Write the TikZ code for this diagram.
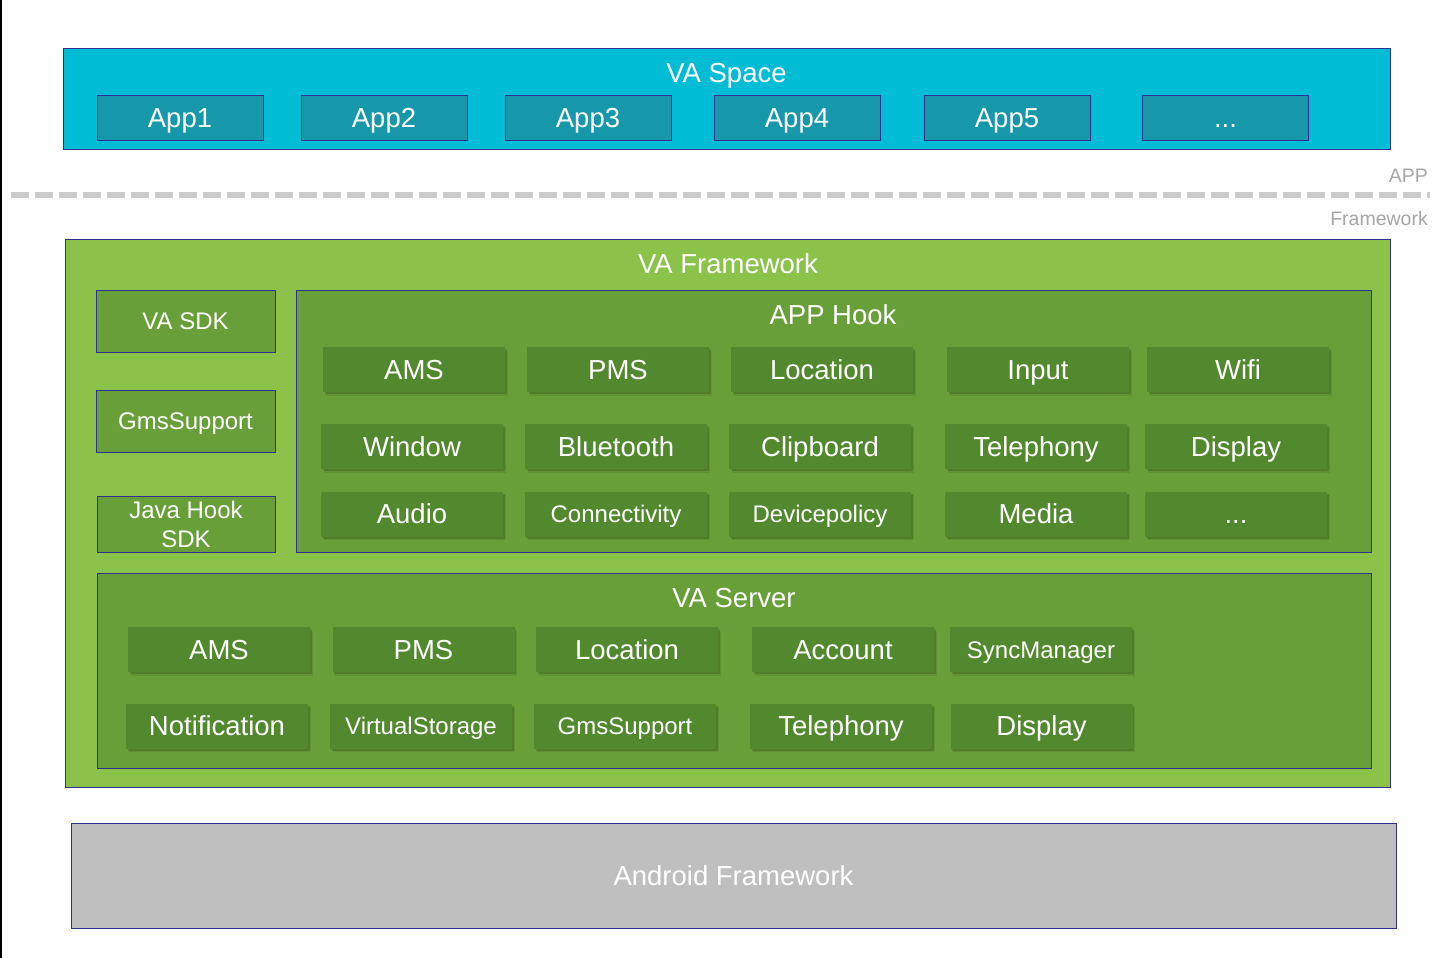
\documentclass[tikz,border=0pt]{standalone}
\usepackage{fontspec}
\setmainfont{Liberation Sans}
\usetikzlibrary{shadows}
\definecolor{edgeblue}{RGB}{46,49,146}
\definecolor{spacecyan}{RGB}{0,188,212}
\definecolor{appteal}{RGB}{23,151,170}
\definecolor{fwgreen}{RGB}{139,195,74}
\definecolor{midgreen}{RGB}{104,159,56}
\definecolor{darkgreen}{RGB}{82,137,47}
\definecolor{androidgray}{RGB}{191,191,191}
\definecolor{sepgray}{RGB}{204,204,204}
\definecolor{notegray}{RGB}{166,166,166}

\begin{document}
\begin{tikzpicture}[x=1pt,y=-1pt,
    bigfont/.style={font=\fontsize{27.5}{30}\selectfont, text height=19.7pt, text depth=0pt},
    smallfont/.style={font=\fontsize{24}{29}\selectfont, text height=17.2pt, text depth=0pt},
    layer/.style={draw=edgeblue, line width=0.9pt, anchor=north west, inner sep=0pt},
    title/.style={bigfont, text=white, inner sep=0pt},
    appbox/.style={draw=edgeblue, line width=0.9pt, fill=appteal, text=white, bigfont,
        minimum width=166pt, minimum height=45pt, inner sep=0pt},
    sdkbox/.style={draw=edgeblue, line width=0.9pt, fill=midgreen, text=white, smallfont,
        minimum width=179pt, minimum height=62pt, inner sep=0pt},
    hook/.style={fill=darkgreen, text=white, bigfont, minimum width=182pt, minimum height=45pt,
        inner sep=0pt,
        drop shadow={shadow xshift=2.5pt, shadow yshift=-3.5pt, fill=black, opacity=0.08},
        drop shadow={shadow xshift=1.5pt, shadow yshift=-2pt, fill=black, opacity=0.14}},
    hooksmall/.style={hook, smallfont},
    note/.style={font=\fontsize{19.5}{22}\selectfont, text=notegray, text height=14pt, text depth=0pt,
        inner sep=0pt, anchor=east}]
    \useasboundingbox (0,0) rectangle (1441,958);
    \fill[white] (0,0) rectangle (1441,958);
    \draw[line width=2pt] (1,0) -- (1,958);

    % VA Space
    \node[layer, fill=spacecyan, minimum width=1327pt, minimum height=101pt] (space) at (63,48) {};
    \node[title] (spacettl) at (726.5,73) {VA Space};
    \node[appbox] (app1) at (180,117.5) {App1};
    \node[appbox] (app2) at (384,117.5) {App2};
    \node[appbox] (app3) at (588,117.5) {App3};
    \node[appbox] (app4) at (797,117.5) {App4};
    \node[appbox] (app5) at (1007,117.5) {App5};
    \node[appbox] (appmore) at (1225.5,117.5) {...};

    % separator APP / Framework
    \draw[sepgray, line width=6pt, dash pattern=on 18pt off 6pt] (11,195) -- (1430,195);
    \node[note] (appnote) at (1428,175) {APP};
    \node[note] (fwnote) at (1428,218) {Framework};

    % VA Framework
    \node[layer, fill=fwgreen, minimum width=1325pt, minimum height=548pt] (fw) at (65,239) {};
    \node[title] (fwttl) at (728,264) {VA Framework};
    \node[sdkbox] (vasdk) at (185.5,321) {VA SDK};
    \node[sdkbox] (gms) at (185.5,421) {GmsSupport};
    \node[sdkbox, minimum width=178pt, minimum height=56pt, text height=, text depth=, align=center] (javahook) at (186,524) {Java Hook\\SDK};

    % APP Hook
    \node[layer, fill=midgreen, minimum width=1075pt, minimum height=262pt] (hookarea) at (296,290) {};
    \node[title] (hookttl) at (833,315) {APP Hook};
    \node[hook] (hams) at (414,369.5) {AMS};
    \node[hook] (hpms) at (618,369.5) {PMS};
    \node[hook] (hloc) at (822,369.5) {Location};
    \node[hook] (hinput) at (1038,369.5) {Input};
    \node[hook] (hwifi) at (1238,369.5) {Wifi};
    \node[hook] (hwin) at (412,446.5) {Window};
    \node[hook] (hbt) at (616,446.5) {Bluetooth};
    \node[hook] (hclip) at (820,446.5) {Clipboard};
    \node[hook] (htel) at (1036,446.5) {Telephony};
    \node[hook] (hdisp) at (1236,446.5) {Display};
    \node[hook] (haudio) at (412,514) {Audio};
    \node[hooksmall] (hconn) at (616,514) {Connectivity};
    \node[hooksmall] (hdev) at (820,514) {Devicepolicy};
    \node[hook] (hmedia) at (1036,514) {Media};
    \node[hook] (hmore) at (1236,514) {...};

    % VA Server
    \node[layer, fill=midgreen, minimum width=1274pt, minimum height=195pt] (server) at (97,573) {};
    \node[title] (serverttl) at (734,598) {VA Server};
    \node[hook] (sams) at (219,649.5) {AMS};
    \node[hook] (spms) at (423.5,649.5) {PMS};
    \node[hook] (sloc) at (627,649.5) {Location};
    \node[hook] (sacc) at (843,649.5) {Account};
    \node[hooksmall] (ssync) at (1041,649.5) {SyncManager};
    \node[hook] (snotif) at (217,726) {Notification};
    \node[hooksmall] (sstore) at (421,726) {VirtualStorage};
    \node[hooksmall] (sgms) at (625,726) {GmsSupport};
    \node[hook] (stel) at (841,726) {Telephony};
    \node[hook] (sdisp) at (1041.5,726) {Display};

    % Android Framework
    \node[layer, fill=androidgray, minimum width=1325pt, minimum height=105pt] (android) at (71,823) {};
    \node[title] (androidttl) at (733.5,876) {Android Framework};
\end{tikzpicture}
\end{document}
